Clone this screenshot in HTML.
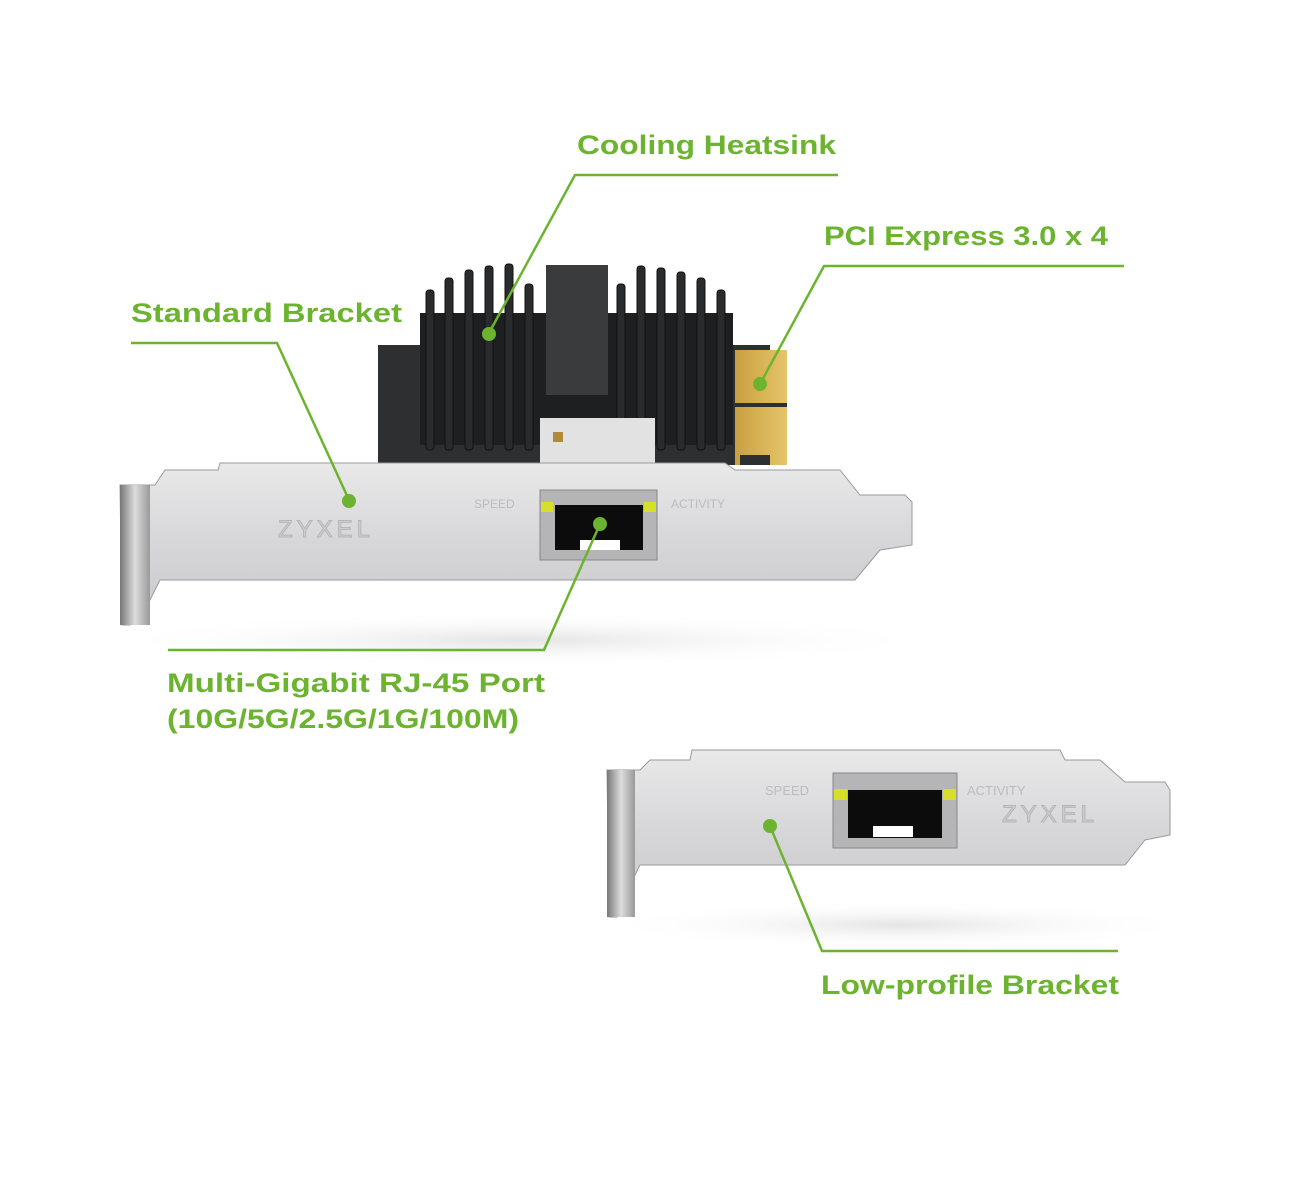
<!DOCTYPE html>
<html><head><meta charset="utf-8"><style>
html,body{margin:0;padding:0;background:#fff;}
svg{display:block;}
text{font-family:"Liberation Sans",sans-serif;font-weight:bold;fill:#6cb42f;}
</style></head><body>
<svg width="1299" height="1181" viewBox="0 0 1299 1181" xmlns="http://www.w3.org/2000/svg">
<defs>
<linearGradient id="met" x1="0" y1="0" x2="0" y2="1">
<stop offset="0" stop-color="#e9e9ea"/><stop offset="0.5" stop-color="#d6d6d8"/><stop offset="1" stop-color="#c9c9cb"/>
</linearGradient>
<linearGradient id="fl" x1="0" y1="0" x2="1" y2="0">
<stop offset="0" stop-color="#777"/><stop offset="0.5" stop-color="#ddd"/><stop offset="1" stop-color="#999"/>
</linearGradient>
<linearGradient id="gold" x1="0" y1="0" x2="1" y2="0">
<stop offset="0" stop-color="#c9a040"/><stop offset="1" stop-color="#e6c46a"/>
</linearGradient>
<radialGradient id="sh" cx="0.5" cy="0.5" r="0.5">
<stop offset="0" stop-color="#e4e4e4"/><stop offset="1" stop-color="#fff" stop-opacity="0"/>
</radialGradient>
</defs>

<!-- shadows -->
<ellipse cx="520" cy="640" rx="420" ry="28" fill="url(#sh)"/>
<ellipse cx="900" cy="925" rx="300" ry="24" fill="url(#sh)"/>

<!-- PCB -->
<rect x="378" y="345" width="392" height="120" fill="#2e2f31"/>
<rect x="735" y="350" width="52" height="115" fill="url(#gold)"/>
<rect x="735" y="403" width="52" height="4" fill="#2e2f31"/>
<rect x="740" y="455" width="30" height="10" fill="#2e2f31"/>
<!-- heatsink -->
<rect x="420" y="313" width="313" height="132" fill="#1e1f21"/>
<g fill="#2a2b2d" stroke="#111" stroke-width="1">
<rect x="426" y="290" width="8" height="160" rx="3"/>
<rect x="445" y="278" width="8" height="172" rx="3"/>
<rect x="465" y="270" width="8" height="180" rx="3"/>
<rect x="485" y="266" width="8" height="184" rx="3"/>
<rect x="505" y="264" width="8" height="186" rx="3"/>
<rect x="525" y="284" width="8" height="166" rx="3"/>
<rect x="617" y="284" width="8" height="166" rx="3"/>
<rect x="637" y="266" width="8" height="184" rx="3"/>
<rect x="657" y="268" width="8" height="182" rx="3"/>
<rect x="677" y="272" width="8" height="178" rx="3"/>
<rect x="697" y="278" width="8" height="172" rx="3"/>
<rect x="717" y="290" width="8" height="160" rx="3"/>
</g>
<rect x="546" y="265" width="62" height="130" fill="#3a3b3d"/>
<rect x="540" y="418" width="115" height="50" fill="#e2e2e2"/>
<rect x="553" y="432" width="10" height="10" fill="#b08a3a"/>

<!-- standard bracket -->
<polygon points="155,485 165,470 218,470 220,463 725,463 735,470 840,470 860,495 905,495 912,502 912,545 880,550 855,580 160,580 150,600 130,625 122,625 120,485" fill="url(#met)" stroke="#9a9a9c" stroke-width="1"/>
<rect x="120" y="485" width="30" height="140" fill="url(#fl)"/>
<text x="278" y="537" font-size="24" style="fill:#d0d0d2;stroke:#b5b5b7;stroke-width:1;font-weight:normal;letter-spacing:4px">ZYXEL</text>
<text x="474" y="508" font-size="12" style="fill:#bcbcbe;font-weight:normal">SPEED</text>
<text x="671" y="508" font-size="12" style="fill:#bcbcbe;font-weight:normal">ACTIVITY</text>
<rect x="540" y="490" width="117" height="70" fill="#b5b5b7" stroke="#888" stroke-width="1"/>
<rect x="555" y="505" width="88" height="45" fill="#0c0c0c"/>
<rect x="541" y="502" width="12" height="10" fill="#d6e02a"/>
<rect x="644" y="502" width="12" height="10" fill="#d6e02a"/>
<rect x="580" y="540" width="40" height="10" fill="#fff"/>

<!-- low profile bracket -->
<polygon points="640,770 650,760 690,760 692,750 1060,750 1065,760 1100,760 1125,782 1165,782 1170,790 1170,835 1145,840 1125,865 640,865 630,885 617,917 609,917 607,770" fill="url(#met)" stroke="#9a9a9c" stroke-width="1"/>
<rect x="607" y="770" width="28" height="147" fill="url(#fl)"/>
<text x="765" y="795" font-size="13" style="fill:#bcbcbe;font-weight:normal">SPEED</text>
<text x="967" y="795" font-size="13" style="fill:#bcbcbe;font-weight:normal">ACTIVITY</text>
<text x="1002" y="822" font-size="24" style="fill:#d0d0d2;stroke:#b5b5b7;stroke-width:1;font-weight:normal;letter-spacing:4px">ZYXEL</text>
<rect x="833" y="773" width="124" height="75" fill="#b5b5b7" stroke="#888" stroke-width="1"/>
<rect x="848" y="790" width="94" height="48" fill="#0c0c0c"/>
<rect x="834" y="789" width="13" height="11" fill="#d6e02a"/>
<rect x="943" y="789" width="13" height="11" fill="#d6e02a"/>
<rect x="873" y="826" width="40" height="11" fill="#fff"/>

<!-- callouts -->
<g stroke="#6cb42f" stroke-width="2.5" fill="none">
<polyline points="838,175 575,175 489,333"/>
<polyline points="1124,266 824,266 760,384"/>
<polyline points="131,343 277,343 349,500"/>
<polyline points="168,650 544,650 600,524"/>
<polyline points="1118,951 822,951 770,826"/>
</g>
<g fill="#6cb42f">
<circle cx="489" cy="334" r="7"/>
<circle cx="760" cy="384" r="7"/>
<circle cx="349" cy="501" r="7"/>
<circle cx="600" cy="524" r="7"/>
<circle cx="770" cy="826" r="7"/>
</g>
<text x="577" y="154" font-size="27" textLength="259" lengthAdjust="spacingAndGlyphs">Cooling Heatsink</text>
<text x="824" y="245" font-size="27" textLength="284" lengthAdjust="spacingAndGlyphs">PCI Express 3.0 x 4</text>
<text x="131" y="322" font-size="27" textLength="271" lengthAdjust="spacingAndGlyphs">Standard Bracket</text>
<text x="167" y="692" font-size="27" textLength="378" lengthAdjust="spacingAndGlyphs">Multi-Gigabit RJ-45 Port</text>
<text x="167" y="728" font-size="27" textLength="352" lengthAdjust="spacingAndGlyphs">(10G/5G/2.5G/1G/100M)</text>
<text x="821" y="994" font-size="27" textLength="298" lengthAdjust="spacingAndGlyphs">Low-profile Bracket</text>
</svg>
</body></html>
